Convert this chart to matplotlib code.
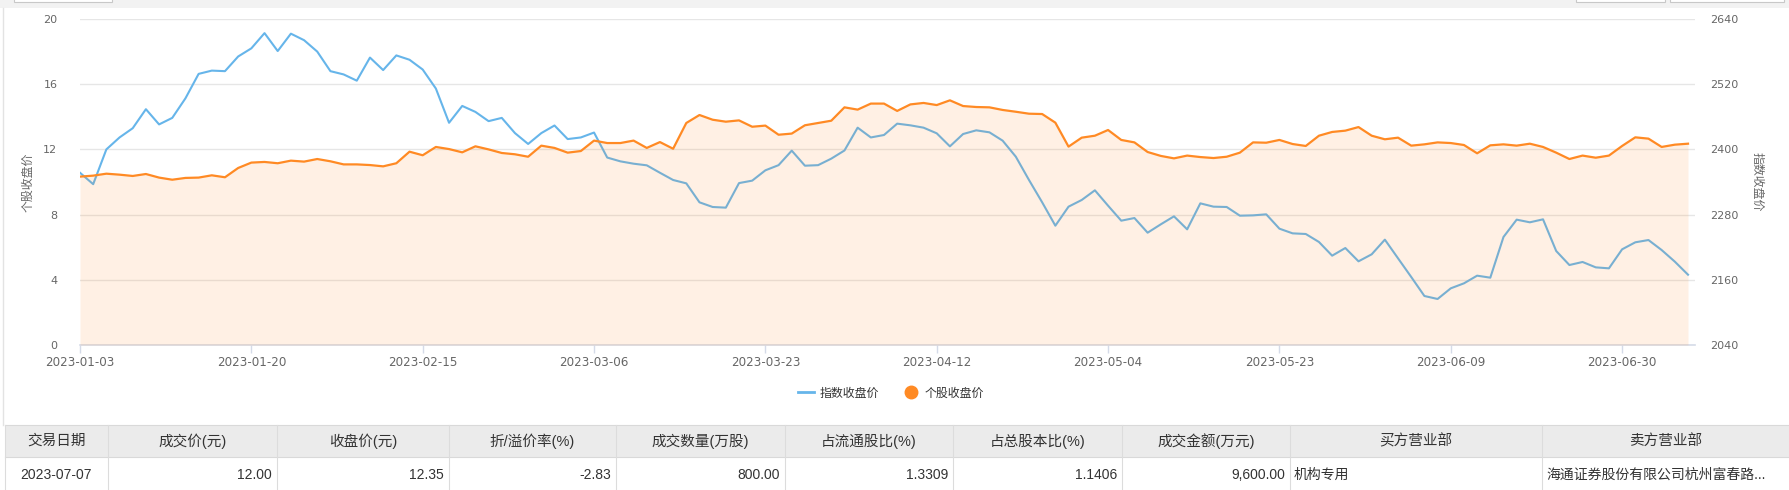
# -*- coding: utf-8 -*-
import numpy as np
import matplotlib
matplotlib.use('Agg')
from matplotlib import pyplot as plt
from matplotlib.lines import Line2D
from matplotlib.patches import Rectangle

plt.rcParams['font.family'] = ['DejaVu Sans', 'Noto Sans CJK SC']

# 个股收盘价 (left axis), one value per trading day 2023-01-03 .. 2023-07-07
stock_close = [
    10.33, 10.39, 10.51, 10.45, 10.37, 10.49, 10.27, 10.14, 10.25, 10.27, 10.41,
    10.29, 10.86, 11.19, 11.23, 11.15, 11.31, 11.25, 11.41, 11.27, 11.08,
    11.08, 11.04, 10.96, 11.15, 11.86, 11.64, 12.15, 12.02, 11.82, 12.19, 12.00,
    11.78, 11.70, 11.55, 12.23, 12.09, 11.80, 11.90, 12.54, 12.39, 12.39,
    12.54, 12.09, 12.45, 12.04, 13.62, 14.11, 13.82, 13.70, 13.78, 13.39,
    13.46, 12.90, 12.97, 13.48, 13.62, 13.76, 14.58, 14.44, 14.81, 14.81,
    14.36, 14.76, 14.85, 14.72, 15.01, 14.66, 14.60, 14.58, 14.42, 14.31, 14.19,
    14.17, 13.64, 12.17, 12.72, 12.84, 13.19, 12.58, 12.43, 11.84, 11.60,
    11.45, 11.62, 11.53, 11.47, 11.55, 11.80, 12.43, 12.41, 12.58, 12.33,
    12.21, 12.84, 13.07, 13.15, 13.37, 12.84, 12.62, 12.72, 12.23, 12.31,
    12.43, 12.39, 12.27, 11.76, 12.25, 12.31, 12.23, 12.35, 12.15, 11.80,
    11.41, 11.62, 11.49, 11.62, 12.21, 12.74, 12.66, 12.15, 12.29, 12.35,
]

# 指数收盘价 (right axis)
index_close = [
    2357, 2336, 2400, 2422, 2439, 2474, 2446, 2458, 2494, 2539, 2545,
    2544, 2571, 2586, 2614, 2581, 2613, 2601, 2580, 2544, 2538,
    2526.5, 2569, 2546, 2573, 2565, 2547, 2512, 2449, 2480, 2469, 2452,
    2458, 2430, 2410, 2430, 2444, 2419, 2422, 2431, 2385, 2378,
    2373.7, 2370.7, 2357, 2343.7, 2337.5, 2302.6, 2294, 2292.8, 2338, 2342.5,
    2361.5, 2371, 2397.7, 2370, 2371, 2383, 2398, 2440, 2422, 2426.5,
    2447.4, 2444.3, 2440, 2429.6, 2405.6, 2428.3, 2435.1, 2431.4, 2416.1, 2386.6, 2343.7,
    2302.6, 2259.6, 2294.6, 2306.9, 2324.7, 2296.4, 2268.8, 2273.7, 2246.7, 2262.1,
    2276.8, 2252.9, 2300.7, 2294.6, 2294, 2278, 2278.6, 2280.5, 2254.1, 2245.5,
    2244.3, 2229.6, 2204.4, 2218.5, 2194, 2206.9, 2233.9, 2199.5, 2165.2, 2130.2,
    2124.7, 2144.3, 2153.5, 2167.6, 2163.9, 2238.8, 2270.7, 2265.8, 2271.3, 2213,
    2187.2, 2192.8, 2182.9, 2181.1, 2216.1, 2229, 2233.2, 2214.8, 2193.4, 2169.4,
]

tick_labels = ['2023-01-03', '2023-01-20', '2023-02-15', '2023-03-06', '2023-03-23',
               '2023-04-12', '2023-05-04', '2023-05-23', '2023-06-09', '2023-06-30']

legend_labels = ['指数收盘价', '个股收盘价']

table_head = ['交易日期', '成交价(元)', '收盘价(元)', '折/溢价率(%)', '成交数量(万股)',
              '占流通股比(%)', '占总股本比(%)', '成交金额(万元)', '买方营业部', '卖方营业部']
table_row = ['2023-07-07', '12.00', '12.35', '-2.83', '800.00', '1.3309', '1.1406',
             '9,600.00', '机构专用', '海通证券股份有限公司杭州富春路...']

BLUE = '#66b5ea'
ORANGE = '#ff8a24'
CJK = ['Noto Sans CJK SC']
W, H = 1790, 490

fig = plt.figure(figsize=(W / 100, H / 100), dpi=100)
fig.patch.set_facecolor('white')

# page chrome and the table, drawn in pixel coords (y down)
tax = fig.add_axes([0, 0, 1, 1])
tax.set_xlim(0, W)
tax.set_ylim(H, 0)
tax.axis('off')
tax.add_patch(Rectangle((0, 0), W, 7.7, color='#f2f2f2', lw=0))
for x0, x1 in [(14, 112), (1576, 1665), (1670, 1784)]:
    tax.add_patch(Rectangle((x0, -4), x1 - x0, 6.5, facecolor='white', edgecolor='#c8c8c8', lw=0.8))
tax.plot([3, 3], [7.7, 425], color='#e3e3e3', lw=1)

edges = [5, 108, 277, 449, 616, 785, 953, 1122, 1290, 1542, 1790]
head_top, head_bot, row_bot = 425, 457, 495
tax.add_patch(Rectangle((edges[0], head_top), edges[-1] - edges[0], head_bot - head_top,
                        facecolor='#ebebeb', edgecolor='none'))
tax.plot([edges[0], edges[-1]], [head_top, head_top], color='#d9d9d9', lw=0.8)
tax.plot([edges[0], edges[-1]], [head_bot, head_bot], color='#d9d9d9', lw=0.8)
for e in edges:
    tax.plot([e, e], [head_top, row_bot], color='#dcdcdc', lw=0.8)
aligns = ['center', 'right', 'right', 'right', 'right', 'right', 'right', 'right', 'left', 'left']
for k in range(len(table_head)):
    l, r = edges[k], edges[k + 1]
    tax.text((l + r) / 2, (head_top + head_bot) / 2, table_head[k], ha='center', va='center',
             fontsize=10.5, color='#333333', family=['Liberation Sans'] + CJK)
    a = aligns[k]
    xt = {'center': (l + r) / 2, 'right': r - 5, 'left': l + 4}[a]
    tax.text(xt, 475, table_row[k], ha=a, va='center', fontsize=10, color='#333333',
             family=['Liberation Sans'] + CJK)

# chart
x = np.arange(len(stock_close))
ax = fig.add_axes([80 / W, (H - 345) / H, (1694.6 - 80) / W, (345 - 19) / H])
ax.patch.set_alpha(0)
ax2 = ax.twinx()

ax.plot(x, index_close, color=BLUE, lw=1.5)
ax2.fill_between(x, 0, stock_close, color=ORANGE, alpha=0.12, lw=0)
ax2.plot(x, stock_close, color=ORANGE, lw=1.6)

ax.set_ylim(2040, 2640)
ax.set_yticks(np.arange(2040, 2641, 120))
ax2.set_ylim(0, 20)
ax2.set_yticks(np.arange(0, 21, 4))
ax.set_xlim(0, 122.5)
ax.set_xticks(np.arange(len(tick_labels)) * 13)
ax.set_xticklabels(tick_labels)
ax.yaxis.tick_right()
ax2.yaxis.tick_left()

ax.grid(axis='y', color='#e6e6e6', lw=1)
ax.set_axisbelow(True)
for s in ['top', 'left', 'right']:
    ax.spines[s].set_visible(False)
    ax2.spines[s].set_visible(False)
ax2.spines['bottom'].set_visible(False)
ax.spines['bottom'].set_color('#d5dbe8')
ax.spines['bottom'].set_linewidth(1.2)

ax.tick_params(axis='x', length=6, color='#d5dbe8', width=1, pad=2, labelsize=8.6, labelcolor='#666666')
ax.tick_params(axis='y', length=0, pad=11.5, labelsize=8, labelcolor='#666666')
ax2.tick_params(axis='y', length=0, pad=16.3, labelsize=8, labelcolor='#666666')

fig.text(27.5 / W, 1 - 182 / H, '个股收盘价', rotation=90, ha='center', va='center',
         fontsize=8.6, color='#666666', family=CJK)
fig.text(1757 / W, 1 - 182 / H, '指数收盘价', rotation=-90, ha='center', va='center',
         fontsize=8.6, color='#666666', family=CJK)

handles = [Line2D([], [], color=BLUE, lw=2),
           Line2D([], [], ls='none', marker='o', ms=9, color=ORANGE)]
fig.legend(handles, legend_labels, loc='center', bbox_to_anchor=(891 / W, 1 - 393 / H), ncol=2,
           frameon=False, prop={'family': CJK, 'size': 8.6}, handlelength=1.33,
           handletextpad=0.5, columnspacing=2.0, labelcolor='#333333')

fig.savefig('out.png', dpi=100)
